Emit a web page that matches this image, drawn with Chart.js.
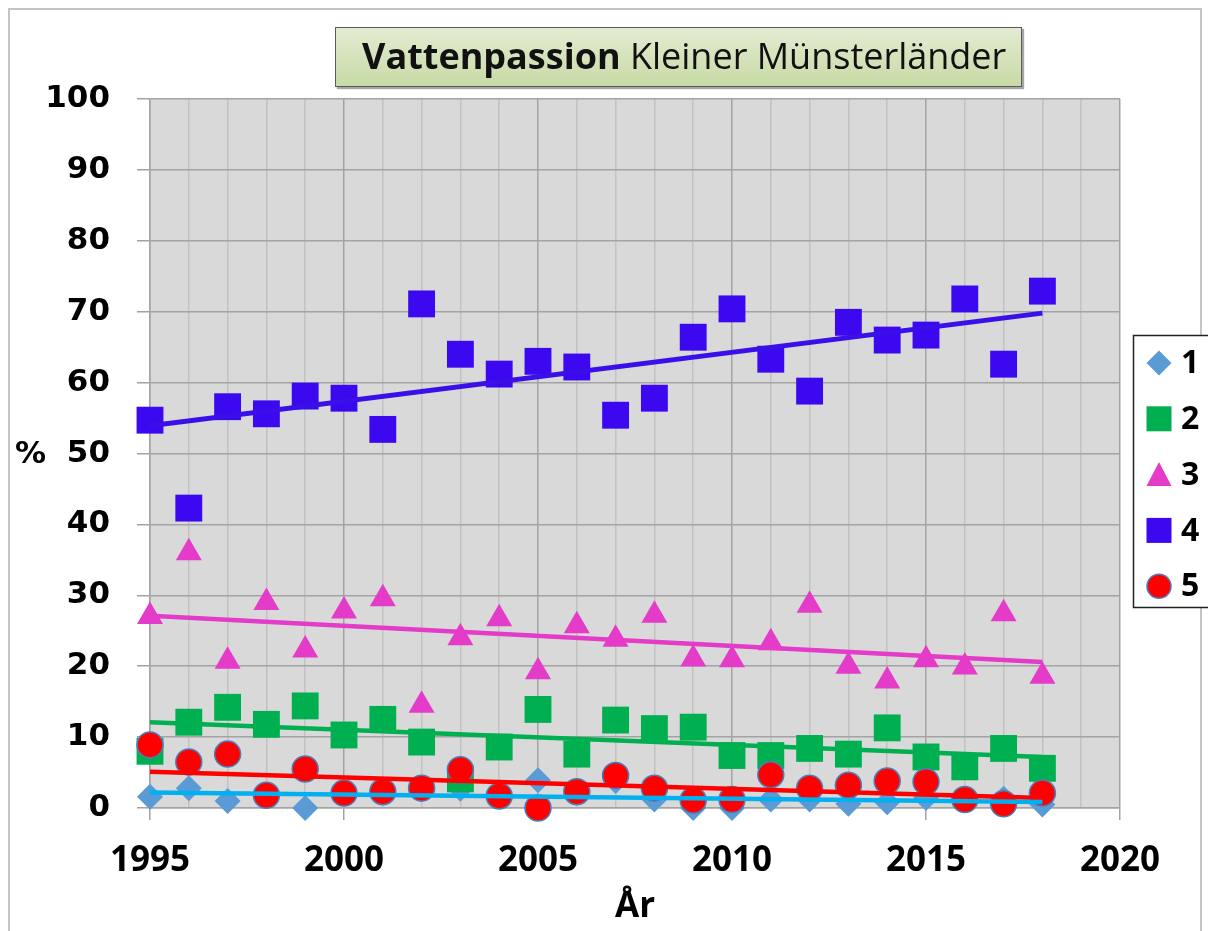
<!DOCTYPE html>
<html>
<head>
<meta charset="utf-8">
<script src="https://cdn.jsdelivr.net/npm/chart.js@4.4.0/dist/chart.umd.min.js"></script>
<style>
html, body { margin: 0; padding: 0; background: #fff; }
#wrap { position: relative; width: 1208px; height: 931px; overflow: hidden; }
#frame { position: absolute; left: 8px; top: 8px; width: 1194px; height: 930px; border: 2px solid #c4c4c4; box-sizing: border-box; }
#chart { position: absolute; left: 0; top: 0; }
#title {
    position: absolute; left: 335px; top: 27px; width: 687px; height: 60px; box-sizing: border-box;
    border: 1.5px solid #5a5a5a; background: linear-gradient(#e3ecd2, #c7daa5);
    box-shadow: 2px 2px 1px rgba(0,0,0,0.35);
    font-family: "Open Sans"; font-size: 36px; line-height: 56px; padding-left: 26px;
    white-space: nowrap; color: #111;
}
#pct { position: absolute; left: 15px; top: 434px; font: bold 31px "DejaVu Sans"; color: #000; }
</style>
</head>
<body>
<div id="wrap">
    <div id="frame"></div>
    <canvas id="chart" width="1208" height="931"></canvas>
    <div id="title"><b>Vattenpassion</b> Kleiner Münsterländer</div>
    <div id="pct">%</div>
</div>
<script>
// Data
const years = [1995, 1996, 1997, 1998, 1999, 2000, 2001, 2002, 2003, 2004, 2005, 2006,
               2007, 2008, 2009, 2010, 2011, 2012, 2013, 2014, 2015, 2016, 2017, 2018];
const series1 = [1.6, 2.8, 1.0, 1.8, 0.0, 2.0, 2.3, 2.8, 2.7, 1.7, 3.9, 2.4,
                 3.8, 1.2, 0.0, 0.0, 1.2, 1.2, 0.6, 0.8, 1.4, 1.2, 1.3, 0.5];
const series2 = [8.0, 12.1, 14.2, 11.8, 14.4, 10.3, 12.5, 9.3, 4.1, 8.6, 13.9, 7.6,
                 12.4, 11.2, 11.4, 7.4, 7.4, 8.4, 7.6, 11.3, 7.2, 5.8, 8.4, 5.6];
const series3 = [27.0, 36.0, 20.7, 29.0, 22.3, 27.8, 29.5, 14.5, 24.0, 26.7, 19.2, 25.7,
                 23.8, 27.2, 21.0, 20.9, 23.3, 28.6, 20.0, 17.9, 20.9, 19.9, 27.4, 18.6];
const series4 = [54.7, 42.3, 56.6, 55.6, 58.1, 57.8, 53.4, 71.1, 64.0, 61.2, 63.0, 62.2,
                 55.4, 57.8, 66.4, 70.4, 63.3, 58.8, 68.5, 66.0, 66.7, 71.8, 62.6, 72.9];
const series5 = [8.9, 6.5, 7.6, 1.8, 5.5, 2.1, 2.3, 2.8, 5.4, 1.7, 0.0, 2.3,
                 4.6, 2.8, 1.1, 1.2, 4.7, 2.8, 3.2, 3.8, 3.7, 1.2, 0.6, 2.1];

// Trend lines (start / end values)
const trendYears = [1995, 2018];
const trend1 = [2.2, 0.85];
const trend2 = [12.1, 7.2];
const trend3 = [27.1, 20.6];
const trend4 = [53.9, 69.8];
const trend5 = [5.1, 1.4];

const seriesNames = ['1', '2', '3', '4', '5'];
const xTicks = [1995, 2000, 2005, 2010, 2015, 2020];
const yTicks = [0, 10, 20, 30, 40, 50, 60, 70, 80, 90, 100];

const toPoints = (xs, ys) => xs.map((x, i) => ({ x: x, y: ys[i] }));

const markerStyles = [
    { style: 'rectRot', radius: 13, fill: '#5b9bd5', border: '#5b9bd5', bw: 0 },
    { style: 'rect', radius: 19, fill: '#00b050', border: '#00b050', bw: 0 },
    { style: 'triangle', radius: 15, fill: '#e43bc9', border: '#e43bc9', bw: 0 },
    { style: 'rect', radius: 19, fill: '#3b08f0', border: '#3b08f0', bw: 0 },
    { style: 'circle', radius: 13, fill: '#ff0000', border: '#4a7ebb', bw: 1.5 }
];
const trendColors = ['#00b0f0', '#00b050', '#e43bc9', '#3b10e8', '#ff0000'];
const allSeries = [series1, series2, series3, series4, series5];
const allTrends = [trend1, trend2, trend3, trend4, trend5];

const datasets = [];
// Trend lines on top
allTrends.forEach((t, i) => {
    datasets.push({
        label: 'trend ' + seriesNames[i],
        data: toPoints(trendYears, t),
        showLine: true,
        borderColor: trendColors[i],
        borderWidth: i === 3 ? 5 : 4.5,
        pointRadius: 0,
        order: [0, 2, 3, 4, 1][i]
    });
});
// Marker series, later series drawn above earlier ones
allSeries.forEach((s, i) => {
    const m = markerStyles[i];
    datasets.push({
        label: seriesNames[i],
        data: toPoints(years, s),
        showLine: false,
        pointStyle: m.style,
        pointRadius: m.radius,
        pointHoverRadius: m.radius,
        pointBackgroundColor: m.fill,
        pointBorderColor: m.border,
        pointBorderWidth: m.bw,
        clip: false,
        order: 20 - i
    });
});

// Legend box on the right
const boxLegend = {
    id: 'boxLegend',
    afterDraw(chart) {
        const ctx = chart.ctx;
        ctx.save();
        ctx.fillStyle = '#fff';
        ctx.fillRect(1133, 335, 90, 273);
        ctx.strokeStyle = '#222';
        ctx.lineWidth = 1.5;
        ctx.strokeRect(1133.5, 335.5, 90, 272);
        markerStyles.forEach((m, i) => {
            const x = 1159;
            const y = 363 + i * 55.8;
            ctx.fillStyle = m.fill;
            ctx.strokeStyle = m.border;
            ctx.lineWidth = m.bw;
            ctx.beginPath();
            if (m.style === 'rectRot') {
                ctx.moveTo(x - 12.5, y); ctx.lineTo(x, y - 12.5);
                ctx.lineTo(x + 12.5, y); ctx.lineTo(x, y + 12.5);
            } else if (m.style === 'rect') {
                ctx.rect(x - 12.5, y - 12.5, 25, 25);
            } else if (m.style === 'triangle') {
                ctx.moveTo(x, y - 12.5); ctx.lineTo(x + 12.5, y + 11.5); ctx.lineTo(x - 12.5, y + 11.5);
            } else {
                ctx.arc(x, y, 12, 0, Math.PI * 2);
            }
            ctx.closePath();
            ctx.fill();
            if (m.bw > 0) ctx.stroke();
            ctx.fillStyle = '#000';
            ctx.font = 'bold 32px "Open Sans"';
            ctx.textBaseline = 'middle';
            ctx.fillText(seriesNames[i], 1181, y + 1);
        });
        ctx.restore();
    }
};

// Grey plot area
const plotBg = {
    id: 'plotBg',
    beforeDraw(chart) {
        const a = chart.chartArea;
        chart.ctx.save();
        chart.ctx.fillStyle = '#d9d9d9';
        chart.ctx.fillRect(a.left, a.top, a.right - a.left, a.bottom - a.top);
        chart.ctx.restore();
    }
};

new Chart(document.getElementById('chart'), {
    type: 'scatter',
    data: { datasets: datasets },
    options: {
        responsive: false,
        animation: false,
        layout: { padding: { top: 99, right: 88, bottom: 0, left: 0 } },
        plugins: {
            legend: { display: false },
            tooltip: { enabled: false }
        },
        scales: {
            x: {
                type: 'linear',
                min: xTicks[0],
                max: xTicks[xTicks.length - 1],
                afterBuildTicks(scale) {
                    const t = [];
                    for (let v = xTicks[0]; v <= xTicks[xTicks.length - 1]; v++) t.push({ value: v });
                    scale.ticks = t;
                },
                afterFit(scale) { scale.height = 123; },
                ticks: {
                    autoSkip: false,
                    maxRotation: 0,
                    padding: 20,
                    color: '#000',
                    font: { family: 'Open Sans', weight: 'bold', size: 35 },
                    callback: v => xTicks.includes(Math.round(v)) ? String(Math.round(v)) : ''
                },
                grid: {
                    color: c => xTicks.includes(Math.round(c.tick.value)) ? '#a3a3a3' : '#c2c2c2',
                    tickColor: c => c.tick && xTicks.includes(Math.round(c.tick.value)) ? '#a3a3a3' : 'rgba(0,0,0,0)',
                    lineWidth: 1.5,
                    tickLength: 12
                },
                border: { color: '#a3a3a3', width: 1.5 },
                title: {
                    display: true,
                    text: 'År',
                    color: '#000',
                    font: { family: 'Open Sans', weight: 'bold', size: 35 },
                    padding: { top: 0, bottom: 3 }
                }
            },
            y: {
                min: yTicks[0],
                max: yTicks[yTicks.length - 1],
                afterFit(scale) { scale.width = 150; },
                ticks: {
                    stepSize: 10,
                    padding: 27,
                    color: '#000',
                    font: { family: 'DejaVu Sans', weight: 'bold', size: 31 }
                },
                grid: { color: '#a3a3a3', lineWidth: 1.5, tickLength: 13 },
                border: { color: '#a3a3a3', width: 1.5 }
            }
        }
    },
    plugins: [plotBg, boxLegend]
});
</script>
</body>
</html>
